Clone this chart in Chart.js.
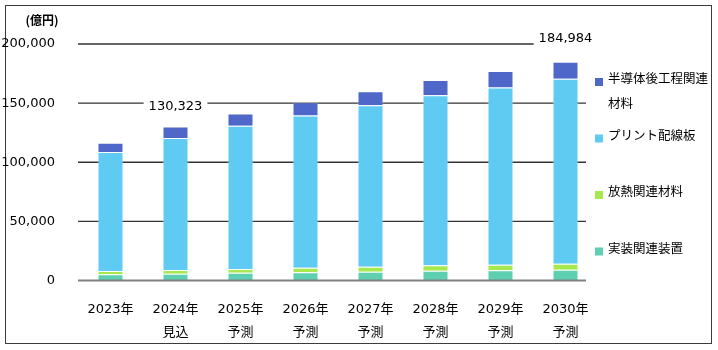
<!DOCTYPE html>
<html>
<head>
<meta charset="utf-8">
<script src="https://cdn.jsdelivr.net/npm/chart.js@4"></script>
<style>
  body { margin: 0; background: #fff; }
  canvas { display: block; }
</style>
</head>
<body>
<canvas id="chart" width="718" height="350"></canvas>
<script>
// 市場規模（億円）
const years = [["2023年"], ["2024年", "見込"], ["2025年", "予測"], ["2026年", "予測"],
               ["2027年", "予測"], ["2028年", "予測"], ["2029年", "予測"], ["2030年", "予測"]];
const seriesNames = ["実装関連装置", "放熱関連材料", "プリント配線板", "半導体後工程関連材料"];
const mounting = [5200, 5700, 6600, 6900, 7400, 8300, 8600, 9100];
const thermal  = [2800, 3100, 3100, 3900, 4200, 4600, 4700, 5100];
const pcb      = [100600, 111623, 121100, 128800, 136700, 143700, 150000, 156384];
const semiMat  = [7900, 9900, 10500, 11200, 11800, 12900, 13800, 14400];
const yTicks = [0, 50000, 100000, 150000, 200000];
const totalLabelAt = [1, 7];   // 合計を表示する年
const unitLabel = "(億円)";

const colors = ["#5ecfb0", "#a8e84f", "#5fcbf2", "#4f67c8"];
const numFont = '"DejaVu Sans", "Noto Sans CJK JP", sans-serif';
const jpFont = '"Noto Sans CJK JP", "DejaVu Sans", sans-serif';
const fmt = v => v.toLocaleString("en-US");

const seriesData = [mounting, thermal, pcb, semiMat];
const totals = years.map((_, i) => seriesData.reduce((s, arr) => s + arr[i], 0));

// 背景・外枠・グリッド線
const framePlugin = {
  id: "frame",
  beforeDraw(chart) {
    const ctx = chart.ctx;
    ctx.save();
    ctx.fillStyle = "#fff";
    ctx.fillRect(0, 0, chart.width, chart.height);
    ctx.strokeStyle = "#3c3c3c";
    ctx.lineWidth = 1;
    ctx.strokeRect(5.5, 5.5, 706, 338);
    ctx.restore();
  },
  beforeDatasetsDraw(chart) {
    const ctx = chart.ctx, y = chart.scales.y, area = chart.chartArea;
    ctx.save();
    ctx.strokeStyle = "#333";
    ctx.lineWidth = 1.4;
    yTicks.slice(1).forEach(v => {
      const py = y.getPixelForValue(v);
      ctx.beginPath();
      ctx.moveTo(area.left, py);
      ctx.lineTo(area.right - 12, py);
      ctx.stroke();
    });
    ctx.restore();
  },
  afterDatasetsDraw(chart) {
    const ctx = chart.ctx, x = chart.scales.x, y = chart.scales.y, area = chart.chartArea;
    ctx.save();
    // ゼロ線
    ctx.strokeStyle = "#808080";
    ctx.lineWidth = 2;
    const py0 = y.getPixelForValue(0);
    ctx.beginPath();
    ctx.moveTo(area.left, py0);
    ctx.lineTo(area.right - 12, py0);
    ctx.stroke();

    // 合計ラベル
    ctx.font = "13px " + numFont;
    ctx.textAlign = "center";
    ctx.textBaseline = "middle";
    const lift = { 1: 20, 7: 23 };
    totalLabelAt.forEach(i => {
      const cx = x.getPixelForValue(i);
      const cy = y.getPixelForValue(totals[i]) - lift[i];
      const txt = fmt(totals[i]);
      const w = ctx.measureText(txt).width;
      ctx.fillStyle = "#fff";
      ctx.fillRect(cx - w / 2 - 5, cy - 8, w + 10, 16);
      ctx.fillStyle = "#000";
      ctx.fillText(txt, cx, cy);
    });

    // 単位
    ctx.font = "bold 12px " + jpFont;
    ctx.fillText(unitLabel, 42, 20);
    ctx.restore();
  },
  afterDraw(chart) {
    // 凡例（上から積み上げの逆順）
    const ctx = chart.ctx;
    ctx.save();
    ctx.font = "12.5px " + jpFont;
    ctx.textAlign = "left";
    ctx.textBaseline = "middle";
    const maxW = 104;
    const order = [3, 2, 1, 0];
    order.forEach((si, k) => {
      const ty = 78.5 + k * 56.5;
      ctx.fillStyle = colors[si];
      ctx.fillRect(595, ty - 0.5, 8, 8);
      // 折り返し
      const lines = [];
      let cur = "";
      for (const ch of seriesNames[si]) {
        if (ctx.measureText(cur + ch).width > maxW) { lines.push(cur); cur = ch; }
        else cur += ch;
      }
      lines.push(cur);
      ctx.fillStyle = "#000";
      lines.forEach((ln, j) => ctx.fillText(ln, 608, ty + j * 24.5));
    });
    ctx.restore();
  }
};

new Chart(document.getElementById("chart"), {
  type: "bar",
  data: {
    labels: years,
    datasets: seriesData.map((arr, i) => ({
      label: seriesNames[i],
      data: arr,
      backgroundColor: colors[i],
      borderColor: "rgba(255,255,255,0.3)",
      borderWidth: 1,
      categoryPercentage: 1,
      barPercentage: 0.4
    }))
  },
  options: {
    responsive: false,
    animation: false,
    devicePixelRatio: 1,
    layout: { padding: { top: 44, right: 120, left: 0, bottom: 0 } },
    plugins: { legend: { display: false }, tooltip: { enabled: false } },
    scales: {
      x: {
        stacked: true,
        grid: { display: false },
        border: { display: false },
        ticks: {
          color: "#000",
          padding: 10,
          maxRotation: 0,
          font: { family: numFont, size: 13, lineHeight: 23 / 13 }
        },
        afterFit(scale) { scale.height = 69.5; }
      },
      y: {
        stacked: true,
        min: 0,
        max: 200000,
        grid: { display: false },
        border: { display: false },
        afterBuildTicks(scale) { scale.ticks = yTicks.map(v => ({ value: v })); },
        ticks: {
          color: "#000",
          padding: 15,
          font: { family: numFont, size: 13 },
          callback: v => fmt(v)
        },
        afterFit(scale) { scale.width = 78; }
      }
    }
  },
  plugins: [framePlugin]
});
</script>
</body>
</html>
